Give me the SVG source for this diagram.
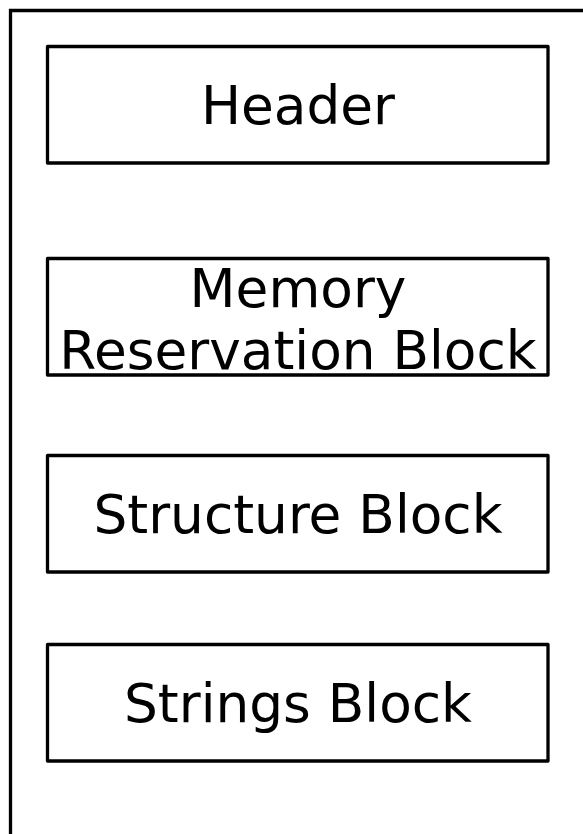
<svg xmlns="http://www.w3.org/2000/svg" width="583" height="834" viewBox="0 0 583 834">
<style>
.box{fill:#fff;stroke:#000;stroke-width:3.3;stroke-linejoin:round}
.frame{fill:none;stroke:#000;stroke-width:3.3}
.lbl{font-family:"DejaVu Sans",sans-serif;font-size:53.3px;fill:#000;text-anchor:middle}
</style>
<rect width="583" height="834" fill="#fff"/>
<g id="frame"><path class="frame" d="M10.5,840 V10.5 H590"/></g>
<g id="connectors"></g>
<g id="header"><rect class="box" x="47.5" y="46.5" width="500.5" height="116.5"/><text class="lbl" x="298" y="124">Header</text></g>
<g id="memory"><rect class="box" x="47.5" y="258.5" width="500.5" height="116.5"/><text class="lbl" x="298" y="307">Memory</text><text class="lbl" x="298" y="369">Reservation Block</text></g>
<g id="structure"><rect class="box" x="47.5" y="455.5" width="500.5" height="116.5"/><text class="lbl" x="298" y="533">Structure Block</text></g>
<g id="strings"><rect class="box" x="47.5" y="644.5" width="500.5" height="116.5"/><text class="lbl" x="298" y="722">Strings Block</text></g>
</svg>
